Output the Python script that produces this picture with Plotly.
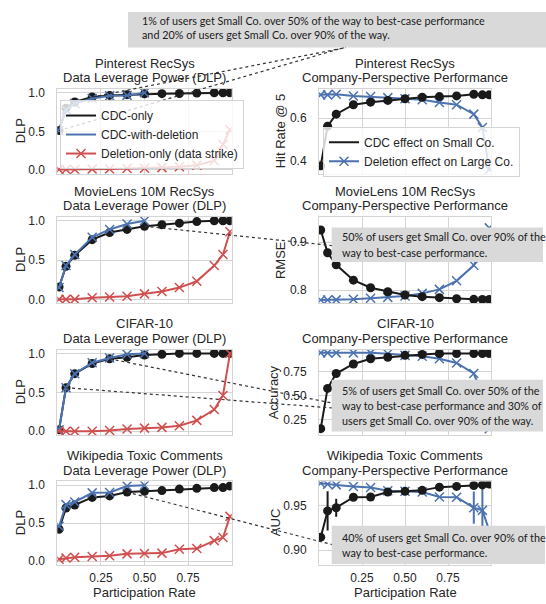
import plotly.graph_objects as go

W, H = 546, 604

# ---------------- data ----------------
rate = [0.01, 0.05, 0.1, 0.2, 0.3, 0.4, 0.5, 0.6, 0.7, 0.8, 0.9, 0.95, 0.99]
rate_half = [0.01, 0.05, 0.1, 0.2, 0.3, 0.4, 0.5]
x_ticks = [0.25, 0.5, 0.75]
x_tick_text = ["0.25", "0.50", "0.75"]

# Pinterest RecSys
pin_dlp_cdc = [0.51, 0.80, 0.88, 0.945, 0.965, 0.975, 0.985, 0.988, 0.99, 0.995, 1.0, 1.0, 1.0]
pin_dlp_cdcdel = [0.51, 0.78, 0.86, 0.925, 0.96, 0.965, 1.0]
pin_dlp_del = [0.005, 0.005, 0.005, 0.01, 0.012, 0.018, 0.022, 0.03, 0.04, 0.06, 0.12, 0.33, 0.52]
pin_perf_small = [0.377, 0.562, 0.618, 0.662, 0.674, 0.682, 0.69, 0.697, 0.70, 0.703, 0.711, 0.708, 0.708]
pin_perf_large = [0.708, 0.708, 0.711, 0.703, 0.70, 0.695, 0.69, 0.685, 0.672, 0.662, 0.618, 0.556, 0.36]

# MovieLens 10M RecSys
ml_dlp_cdc = [0.157, 0.42, 0.56, 0.76, 0.85, 0.89, 0.93, 0.95, 0.97, 0.99, 1.0, 1.0, 1.0]
ml_dlp_cdcdel = [0.15, 0.43, 0.57, 0.79, 0.89, 0.96, 1.0]
ml_dlp_del = [0.0, 0.0, 0.0, 0.02, 0.03, 0.04, 0.07, 0.10, 0.15, 0.23, 0.43, 0.57, 0.86]
ml_perf_small = [0.9255, 0.878, 0.853, 0.8207, 0.8048, 0.7966, 0.7897, 0.7862, 0.7841, 0.782, 0.7807, 0.7805, 0.7805]
ml_perf_large = [0.7793, 0.7793, 0.7795, 0.7807, 0.7828, 0.7848, 0.7876, 0.7931, 0.8014, 0.8193, 0.8517, 0.89, 0.93]

# CIFAR-10
cf_dlp_cdc = [0.02, 0.56, 0.74, 0.87, 0.93, 0.95, 0.98, 0.99, 1.0, 1.0, 1.0, 1.0, 1.0]
cf_dlp_cdcdel = [0.02, 0.56, 0.74, 0.88, 0.94, 0.99, 1.0]
cf_dlp_del = [0.0, 0.0, 0.0, 0.0, 0.01, 0.03, 0.04, 0.05, 0.07, 0.14, 0.28, 0.46, 1.0]
cf_perf_small = [0.153, 0.574, 0.73, 0.83, 0.885, 0.90, 0.92, 0.93, 0.94, 0.94, 0.94, 0.94, 0.94]
cf_perf_large = [0.946, 0.946, 0.946, 0.946, 0.946, 0.936, 0.92, 0.91, 0.885, 0.84, 0.73, 0.5, 0.153]

# Wikipedia Toxic Comments
wk_dlp_cdc = [0.42, 0.70, 0.74, 0.84, 0.86, 0.91, 0.92, 0.93, 0.95, 0.96, 0.97, 0.97, 0.99]
wk_dlp_cdcdel = [0.46, 0.745, 0.78, 0.90, 0.905, 0.99, 1.0]
wk_dlp_del = [0.025, 0.04, 0.05, 0.06, 0.07, 0.095, 0.10, 0.105, 0.155, 0.165, 0.27, 0.31, 0.59]
wk_perf_small = [0.9146, 0.9439, 0.9475, 0.9592, 0.9595, 0.965, 0.9658, 0.9669, 0.9705, 0.9713, 0.9723, 0.973, 0.974]
wk_perf_small_err = [0.003, 0.022, 0.010, 0, 0, 0, 0, 0, 0, 0, 0, 0, 0]
wk_perf_large = [0.9749, 0.9738, 0.973, 0.9713, 0.970, 0.9665, 0.9658, 0.965, 0.9595, 0.9592, 0.9475, 0.9445, 0.922]
wk_perf_large_err = [0, 0, 0, 0, 0, 0, 0, 0, 0, 0, 0.018, 0.025, 0]

datasets = ["Pinterest RecSys", "MovieLens 10M RecSys", "CIFAR-10", "Wikipedia Toxic Comments"]
perf_labels = ["Hit Rate @ 5", "RMSE", "Accuracy", "AUC"]

# ---------------- layout geometry (pixels) ----------------
COLS = [(57.3, 231.7), (319.0, 491.0)]
ROWS = [(86.7, 172.5), (216.0, 303.3), (350.0, 436.5), (483.3, 567.5)]
YR_LEFT = [-0.05, 1.05]
YR_RIGHT = [[0.34, 0.736], [0.7724, 0.953], [0.085, 0.981], [0.8836, 0.9768]]
YT_RIGHT = [([0.4, 0.6], ["0.4", "0.6"]),
            ([0.8, 0.9], ["0.8", "0.9"]),
            ([0.25, 0.5, 0.75], ["0.25", "0.50", "0.75"]),
            ([0.90, 0.95], ["0.90", "0.95"])]
YTITLE_X_RIGHT = [280, 280, 273, 275]

BLACK = "#1a1a1a"
BLUE = "#4c72b0"
RED = "#d0504f"
GRID = "#d4d4d4"
TEXT = "#262626"
FONT = "Liberation Sans, Arial, sans-serif"
BOXFONT = "Lato, sans-serif"


def px(x):
    return x / W


def py(y):
    return 1 - y / H


def to_pix(col, row, x, y, yr):
    x0, x1 = COLS[col]
    top, bot = ROWS[row]
    xp = x0 + x * (x1 - x0)
    yp = bot - (y - yr[0]) / (yr[1] - yr[0]) * (bot - top)
    return xp, yp


fig = go.Figure()
layout = dict(
    width=W, height=H, margin=dict(l=0, r=0, t=0, b=0),
    paper_bgcolor="white", plot_bgcolor="white",
    font=dict(family=FONT, color=TEXT, size=12),
    showlegend=True,
)

dlp_sets = [(pin_dlp_cdc, pin_dlp_cdcdel, pin_dlp_del),
            (ml_dlp_cdc, ml_dlp_cdcdel, ml_dlp_del),
            (cf_dlp_cdc, cf_dlp_cdcdel, cf_dlp_del),
            (wk_dlp_cdc, wk_dlp_cdcdel, wk_dlp_del)]
perf_sets = [(pin_perf_small, pin_perf_large, None, None),
             (ml_perf_small, ml_perf_large, None, None),
             (cf_perf_small, cf_perf_large, None, None),
             (wk_perf_small, wk_perf_large, wk_perf_small_err, wk_perf_large_err)]

annotations = []
shapes = []

circle = dict(symbol="circle", size=9, color=BLACK)


def xmark(color):
    return dict(symbol="x-thin", size=9, color=color, line=dict(width=1.5, color=color))


for r in range(4):
    top, bot = ROWS[r]
    for c in range(2):
        k = r * 2 + c + 1
        xa = "x" if k == 1 else f"x{k}"
        ya = "y" if k == 1 else f"y{k}"
        x0, x1 = COLS[c]
        layout["xaxis" if k == 1 else f"xaxis{k}"] = dict(
            domain=[px(x0), px(x1)], range=[0, 1], anchor=ya,
            tickvals=x_ticks, ticktext=x_tick_text, showticklabels=(r == 3),
            showgrid=True, gridcolor=GRID, gridwidth=1, zeroline=False,
            showline=True, mirror=True, linecolor=GRID, linewidth=1,
            ticks="", ticklabelstandoff=2, tickfont=dict(size=12, color=TEXT),
        )
        if c == 0:
            yr = YR_LEFT
            tv, tt = [0.0, 0.5, 1.0], ["0.0", "0.5", "1.0"]
        else:
            yr = YR_RIGHT[r]
            tv, tt = YT_RIGHT[r]
        layout["yaxis" if k == 1 else f"yaxis{k}"] = dict(
            domain=[py(bot), py(top)], range=yr, anchor=xa,
            tickvals=tv, ticktext=tt,
            showgrid=True, gridcolor=GRID, gridwidth=1, zeroline=False,
            showline=True, mirror=True, linecolor=GRID, linewidth=1,
            ticks="", ticklabelstandoff=9, tickfont=dict(size=12, color=TEXT),
        )
        # titles (two lines)
        cx = (x0 + x1) / 2
        sub = "Data Leverage Power (DLP)" if c == 0 else "Company-Perspective Performance"
        annotations.append(dict(text=datasets[r], x=px(cx), y=py(top - 26), xref="paper", yref="paper",
                                showarrow=False, xanchor="center", yanchor="middle",
                                font=dict(size=13, color=TEXT, family=FONT)))
        annotations.append(dict(text=sub, x=px(cx), y=py(top - 11.5), xref="paper", yref="paper",
                                showarrow=False, xanchor="center", yanchor="middle",
                                font=dict(size=13, color=TEXT, family=FONT)))
        # y axis titles
        ytitle = "DLP" if c == 0 else perf_labels[r]
        ytx = 20 if c == 0 else YTITLE_X_RIGHT[r]
        annotations.append(dict(text=ytitle, x=px(ytx), y=py((top + bot) / 2), xref="paper", yref="paper",
                                showarrow=False, textangle=-90, xanchor="center", yanchor="middle",
                                font=dict(size=13, color=TEXT, family=FONT)))
        if r == 3:
            annotations.append(dict(text="Participation Rate", x=px(cx), y=0, xref="paper", yref="paper",
                                    showarrow=False, xanchor="center", yanchor="bottom", borderpad=0,
                                    font=dict(size=13, color=TEXT, family=FONT)))

        if c == 0:
            cdc, cdcdel, dele = dlp_sets[r]
            fig.add_trace(go.Scatter(x=rate, y=cdc, mode="lines+markers", xaxis=xa, yaxis=ya,
                                     line=dict(color=BLACK, width=2), marker=circle, showlegend=False,
                                     name="CDC-only"))
            fig.add_trace(go.Scatter(x=rate_half, y=cdcdel, mode="lines+markers", xaxis=xa, yaxis=ya,
                                     line=dict(color=BLUE, width=2), marker=xmark(BLUE), showlegend=False,
                                     name="CDC-with-deletion"))
            fig.add_trace(go.Scatter(x=rate, y=dele, mode="lines+markers", xaxis=xa, yaxis=ya,
                                     line=dict(color=RED, width=2), marker=xmark(RED), showlegend=False,
                                     name="Deletion-only (data strike)"))
        else:
            small, large, serr, lerr = perf_sets[r]
            ey_l = dict(type="data", array=lerr, color=BLUE, thickness=2, width=0, visible=True) if lerr else None
            ey_s = dict(type="data", array=serr, color=BLACK, thickness=2, width=0, visible=True) if serr else None
            fig.add_trace(go.Scatter(x=rate, y=large, mode="lines+markers", xaxis=xa, yaxis=ya,
                                     line=dict(color=BLUE, width=2), marker=xmark(BLUE), showlegend=False,
                                     error_y=ey_l, name="Deletion effect on Large Co."))
            fig.add_trace(go.Scatter(x=rate, y=small, mode="lines+markers", xaxis=xa, yaxis=ya,
                                     line=dict(color=BLACK, width=2), marker=circle, showlegend=False,
                                     error_y=ey_s, name="CDC effect on Small Co."))

# legend entries (no data; styling only)
fig.add_trace(go.Scatter(x=[None], y=[None], mode="lines", line=dict(color=BLACK, width=2),
                         name="CDC-only", legend="legend"))
fig.add_trace(go.Scatter(x=[None], y=[None], mode="lines", line=dict(color=BLUE, width=2),
                         name="CDC-with-deletion", legend="legend"))
fig.add_trace(go.Scatter(x=[None], y=[None], mode="lines+markers", line=dict(color=RED, width=2),
                         marker=xmark(RED), name="Deletion-only (data strike)", legend="legend"))
fig.add_trace(go.Scatter(x=[None], y=[None], mode="lines", line=dict(color=BLACK, width=2),
                         name="CDC effect on Small Co.", legend="legend2", xaxis="x2", yaxis="y2"))
fig.add_trace(go.Scatter(x=[None], y=[None], mode="lines+markers", line=dict(color=BLUE, width=2),
                         marker=xmark(BLUE), name="Deletion effect on Large Co.", legend="legend2",
                         xaxis="x2", yaxis="y2"))

leg_common = dict(bgcolor="rgba(255,255,255,0.8)", bordercolor="#d4d4d4", borderwidth=1,
                  font=dict(size=12, color=TEXT, family=FONT), tracegroupgap=0, itemwidth=30,
                  xanchor="left", yanchor="top")
layout["legend"] = dict(x=px(60), y=py(98), **leg_common)
layout["legend2"] = dict(x=px(323), y=py(125), **leg_common)

# ---------------- callouts ----------------
DOT = dict(color="#333333", width=1.2, dash="dot")
callout_lines = [
    (0, rate[0], pin_dlp_cdc[0], (344, 45)),
    (0, rate[3], pin_dlp_cdc[3], (346, 45)),
    (1, rate[6], ml_dlp_cdc[6], (332, 245)),
    (2, rate[1], cf_dlp_cdc[1], (332, 409)),
    (2, rate[4], cf_dlp_cdc[4], (332, 404)),
    (3, rate[5], wk_dlp_cdc[5], (332, 547)),
]
for row, xv, yv, end in callout_lines:
    sx, sy = to_pix(0, row, xv, yv, YR_LEFT)
    shapes.append(dict(type="line", xref="paper", yref="paper", x0=px(sx), y0=py(sy),
                       x1=px(end[0]), y1=py(end[1]), line=DOT, layer="above"))

BOXFILL = "#d9d9d9"
boxes = [
    ((128, 9, 546, 45), 140, [17.5, 32],
     ["1% of users get Small Co. over 50% of the way to best-case performance",
      "and 20% of users get Small Co. over 90% of the way."]),
    ((331.7, 226.7, 543, 261.7), 340, [236, 251.5],
     ["50% of users get Small Co. over 90% of the",
      "way to best-case performance."]),
    ((331.7, 380.5, 543, 432.7), 340, [391.5, 406.5, 421.5],
     ["5% of users get Small Co. over 50% of the",
      "way to best-case performance and 30% of",
      "users get Small Co. over 90% of the way."]),
    ((331.7, 528, 545, 566.7), 340, [540, 555],
     ["40% of users get Small Co. over 90% of the",
      "way to best-case performance."]),
]
for (bx0, by0, bx1, by1), tx, ys, lines in boxes:
    shapes.append(dict(type="rect", xref="paper", yref="paper", x0=px(bx0), y0=py(by1),
                       x1=px(bx1), y1=py(by0), fillcolor=BOXFILL, line=dict(width=0), layer="above"))
    for ty, line in zip(ys, lines):
        annotations.append(dict(text=line, x=px(tx), y=py(ty), xref="paper", yref="paper",
                                showarrow=False, xanchor="left", yanchor="middle",
                                font=dict(size=10.8, color="#1a1a1a", family=BOXFONT)))

layout["annotations"] = annotations
layout["shapes"] = shapes
fig.update_layout(**layout)
fig.write_html("out.html", config={"displayModeBar": False},
               post_script="document.body.style.margin='0';document.body.style.overflow='hidden';")
